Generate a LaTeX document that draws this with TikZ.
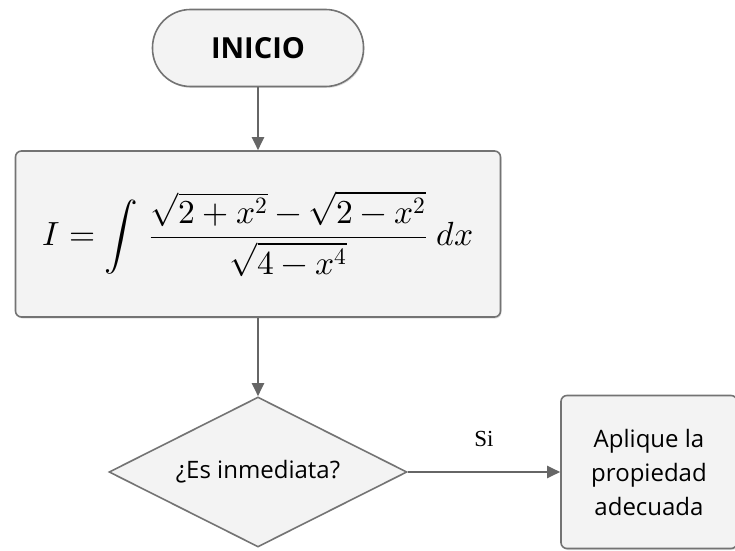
\documentclass[tikz,border=0pt]{standalone}
\usepackage{amsmath}
\usepackage{fontspec}
\usepackage{unicode-math}
\setmainfont{Open Sans}
\setmathfont{Latin Modern Math}
\newfontfamily\serifsi{Liberation Serif}
\usepackage{tikz}
\usetikzlibrary{positioning,shapes.geometric,arrows.meta,shadows}

\definecolor{boxfill}{HTML}{F3F3F3}
\definecolor{boxline}{HTML}{737373}
\definecolor{flowgray}{HTML}{666666}

\tikzset{
    startstop/.style={draw=boxline, line width=1.6pt, fill=boxfill, rounded corners=38pt,
        minimum width=211pt, minimum height=77pt, font=\fontsize{29}{36}\selectfont\bfseries,
        drop shadow={shadow xshift=1pt, shadow yshift=-1.5pt, opacity=0.25}},
    process/.style={draw=boxline, line width=1.6pt, fill=boxfill, rounded corners=6pt,
        minimum width=485pt, minimum height=166pt,
        drop shadow={shadow xshift=1pt, shadow yshift=-1.5pt, opacity=0.25}},
    action/.style={draw=boxline, line width=1.6pt, fill=boxfill, rounded corners=6pt,
        minimum width=176pt, minimum height=153pt, align=center,
        font=\fontsize{24}{34}\selectfont,
        drop shadow={shadow xshift=1pt, shadow yshift=-1.5pt, opacity=0.25}},
    decision/.style={diamond, aspect=2, draw=boxline, line width=1.6pt, fill=boxfill,
        inner sep=0pt, minimum width=298pt, minimum height=150pt,
        font=\fontsize{24}{30}\selectfont},
    flow/.style={draw=flowgray, line width=2pt, -{Triangle[length=13pt,width=12pt]}},
}

\begin{document}
\begin{tikzpicture}[x=1pt,y=1pt]
    \useasboundingbox (0,0) rectangle (735,550);
    \clip (0,0) rectangle (735,550);

    \node[startstop] (inicio) at (258,502) {INICIO};
    \node[process, below of=inicio, node distance=186pt] (integral)
        {\fontsize{33.5}{40}\selectfont
         $\displaystyle I=\int\,\frac{\sqrt{2+x^2}-\sqrt{2-x^2}}{\sqrt{4-x^4}}\;dx$};
    \node[decision, below of=integral, node distance=238pt] (inmediata) {¿Es inmediata?};
    \node[action, right of=inmediata, node distance=391pt] (propiedad)
        {Aplique la\\propiedad\\adecuada};

    \draw[flow] (inicio) -- (integral);
    \draw[flow] (integral) -- (inmediata);
    \draw[flow] (inmediata) -- node[above=24pt, inner sep=0pt,
        font=\serifsi\fontsize{23}{28}\selectfont] (si) {Si} (propiedad);
\end{tikzpicture}
\end{document}
